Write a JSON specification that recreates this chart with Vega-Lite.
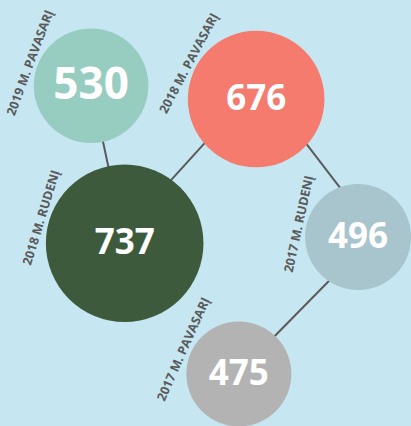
{
  "$schema": "https://vega.github.io/schema/vega-lite/v6.json",
  "width": 411,
  "height": 426,
  "autosize": {"type": "fit", "contains": "padding"},
  "padding": 0,
  "background": "#c6e7f1",
  "config": {"view": {"stroke": null}},
  "datasets": {
    "nodes": [
      {"label": "2019 M. PAVASARĮ", "value": 530, "x": 92.2, "y": 86.5},
      {"label": "2018 M. PAVASARĮ", "value": 676, "x": 259.3, "y": 100},
      {"label": "2018 M. RUDENĮ", "value": 737, "x": 126.2, "y": 245.5},
      {"label": "2017 M. RUDENĮ", "value": 496, "x": 362.5, "y": 239.2},
      {"label": "2017 M. PAVASARĮ", "value": 475, "x": 241.8, "y": 377.5}
    ],
    "edges": [
      {"from": "2019 M. PAVASARĮ", "to": "2018 M. RUDENĮ", "x": 92.2, "y": 86.5, "x2": 126.2, "y2": 245.5},
      {"from": "2018 M. RUDENĮ", "to": "2018 M. PAVASARĮ", "x": 115.2, "y": 245.5, "x2": 247.6, "y2": 100},
      {"from": "2018 M. PAVASARĮ", "to": "2017 M. RUDENĮ", "x": 275.4, "y": 100, "x2": 382.4, "y2": 239.2},
      {"from": "2017 M. RUDENĮ", "to": "2017 M. PAVASARĮ", "x": 376.8, "y": 239.2, "x2": 240.3, "y2": 377.5}
    ]
  },
  "layer": [
    {
      "data": {"name": "edges"},
      "mark": {"type": "rule", "color": "#5a5a5a", "strokeWidth": 2},
      "encoding": {
        "x": {"field": "x", "type": "quantitative", "scale": {"domain": [0, 411], "nice": false, "zero": false}, "axis": null},
        "y": {"field": "y", "type": "quantitative", "scale": {"domain": [0, 426], "nice": false, "zero": false, "reverse": true}, "axis": null},
        "x2": {"field": "x2"},
        "y2": {"field": "y2"}
      }
    },
    {
      "data": {"name": "nodes"},
      "mark": {"type": "circle", "opacity": 1},
      "encoding": {
        "x": {"field": "x", "type": "quantitative"},
        "y": {"field": "y", "type": "quantitative"},
        "size": {"field": "value", "type": "quantitative", "legend": null,
          "scale": {"type": "linear", "zero": false, "domain": [475, 496, 530, 676, 737], "range": [11025, 11236, 13133, 18660, 24838]}},
        "color": {"field": "label", "type": "nominal", "legend": null,
          "scale": {"domain": ["2019 M. PAVASARĮ", "2018 M. PAVASARĮ", "2018 M. RUDENĮ", "2017 M. RUDENĮ", "2017 M. PAVASARĮ"],
                    "range": ["#97ccc1", "#f47b6d", "#3d5b3c", "#a8c4cd", "#b3b3b3"]}}
      }
    },
    {
      "data": {"name": "nodes"},
      "mark": {"type": "text", "color": "#ffffff", "font": "Open Sans", "fontWeight": "bold", "align": "center", "baseline": "middle"},
      "encoding": {
        "x": {"field": "x", "type": "quantitative"},
        "y": {"field": "y", "type": "quantitative"},
        "text": {"field": "value", "type": "quantitative"},
        "size": {"condition": {"test": "datum.value === 530", "value": 44}, "value": 35}
      }
    },
    {
      "data": {"name": "nodes"},
      "mark": {"type": "text", "color": "#5a5a5a", "font": "Open Sans", "fontWeight": "bold", "fontSize": 12.5, "align": "center", "baseline": "middle"},
      "encoding": {
        "x": {"field": "x", "type": "quantitative"},
        "y": {"field": "y", "type": "quantitative"},
        "text": {"field": "label", "type": "nominal"},
        "theta": {"field": "value", "type": "quantitative", "stack": null,
          "scale": {"type": "linear", "zero": false, "domain": [475, 496, 530, 676, 737], "range": [-1.152, -1.356, -1.213, -1.082, -1.274]}},
        "radius": {"field": "value", "type": "quantitative",
          "scale": {"type": "linear", "zero": false, "domain": [475, 496, 530, 676, 737], "range": [60.5, 60.5, 65, 76, 87]}},
        "angle": {"field": "value", "type": "quantitative", "legend": null,
          "scale": {"type": "linear", "zero": false, "domain": [475, 496, 530, 676, 737], "range": [-66, -77.7, -69.5, -62, -73]}}
      }
    }
  ]
}
